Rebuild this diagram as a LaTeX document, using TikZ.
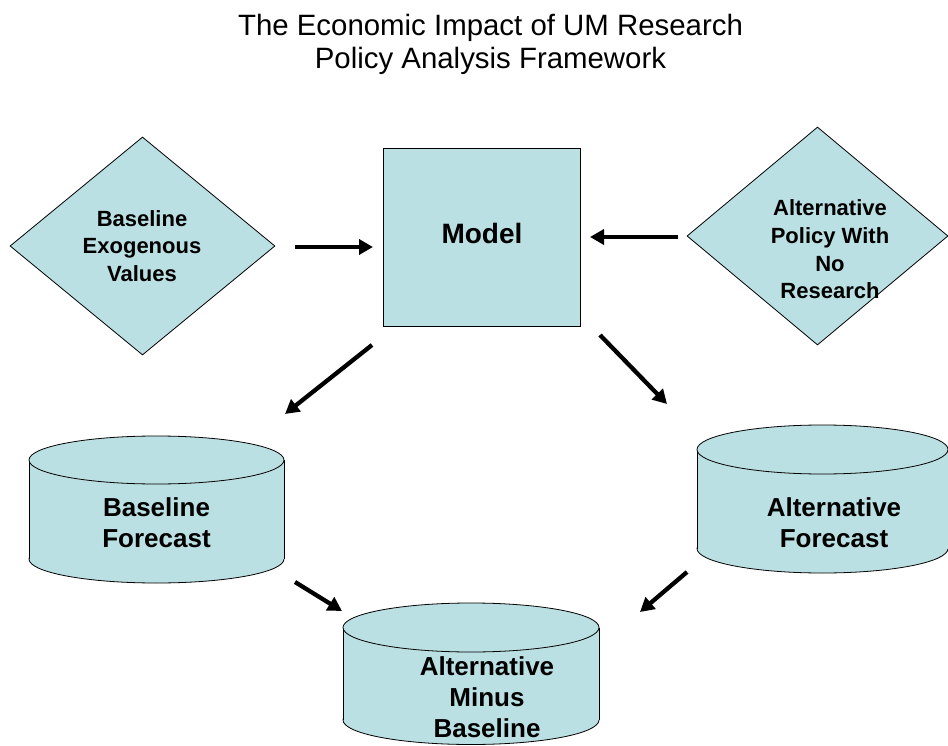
\documentclass[tikz,border=0pt]{standalone}
\usepackage{fontspec}
\setmainfont{Liberation Sans}
\usetikzlibrary{shapes.geometric,arrows.meta}
\definecolor{boxfill}{HTML}{BBE0E3}
\newcommand\drawcyl[5]{% #1 cx, #2 rx, #3 top cy, #4 bottom cy, #5 ry
  \draw[shapefill] (#1,#4) ellipse [x radius=#2, y radius=#5];
  \fill[boxfill] (#1-#2,#3) rectangle (#1+#2,#4);
  \draw[line width=0.8pt] (#1-#2,#3) -- (#1-#2,#4) (#1+#2,#3) -- (#1+#2,#4);
  \draw[shapefill] (#1,#3) ellipse [x radius=#2, y radius=#5];
}
\begin{document}
\begin{tikzpicture}[x=1pt,y=-1pt,
  shapefill/.style={fill=boxfill,draw=black,line width=0.8pt},
  flow/.style={line width=4.3pt,-{Triangle[length=14pt,width=15pt]}},
  smalltxt/.style={font=\fontsize{22}{27.7}\selectfont\bfseries,align=center,inner sep=0pt},
  bigtxt/.style={font=\fontsize{26}{31}\selectfont\bfseries,align=center,inner sep=0pt},
]
\useasboundingbox (0,0) rectangle (948,746);
\clip (0,0) rectangle (948,746);

% title
\node[font=\fontsize{29.4}{33}\selectfont,align=center,inner sep=0pt] (title) at (490.5,44.5)
  {The Economic Impact of UM Research\\Policy Analysis Framework};

% diamonds
\node[diamond,shapefill,minimum width=265pt,minimum height=218pt,inner sep=0pt] (bevd) at (142.5,246) {};
\node[smalltxt] (bev) at (142,246) {Baseline\\Exogenous\\Values};
\node[diamond,shapefill,minimum width=261pt,minimum height=218pt,inner sep=0pt] (apd) at (817.5,236) {};
\node[smalltxt] (ap) at (830,249.5) {Alternative\\Policy With\\No\\Research};

% model
\node[shapefill,minimum width=197pt,minimum height=178pt,inner sep=0pt] (model) at (481.5,237) {};
\node[font=\fontsize{28}{32}\selectfont\bfseries,inner sep=0pt] (modeltxt) at (482,233) {Model};

% cylinders
\drawcyl{156.5}{127.5}{460}{559}{24}
\node[bigtxt] (bf) at (156.5,522.5) {Baseline\\Forecast};
\drawcyl{822.5}{125.5}{449.5}{548.5}{24.5}
\node[bigtxt] (af) at (834,522.5) {Alternative\\Forecast};
\drawcyl{471}{128}{627.5}{720}{24.5}
\node[bigtxt] (amb) at (487,697) {Alternative\\Minus\\Baseline};

% arrows
\coordinate (a1s) at (295,247); \coordinate (a1e) at (373,247);
\coordinate (a2s) at (678,237); \coordinate (a2e) at (590,237);
\coordinate (a3s) at (372,345); \coordinate (a3e) at (285,414);
\coordinate (a4s) at (600,335); \coordinate (a4e) at (667,404);
\coordinate (a5s) at (295,582); \coordinate (a5e) at (342,611);
\coordinate (a6s) at (687,572); \coordinate (a6e) at (640,612);
\draw[flow] (a1s) -- (a1e);
\draw[flow] (a2s) -- (a2e);
\draw[flow] (a3s) -- (a3e);
\draw[flow] (a4s) -- (a4e);
\draw[flow] (a5s) -- (a5e);
\draw[flow] (a6s) -- (a6e);
\end{tikzpicture}
\end{document}
